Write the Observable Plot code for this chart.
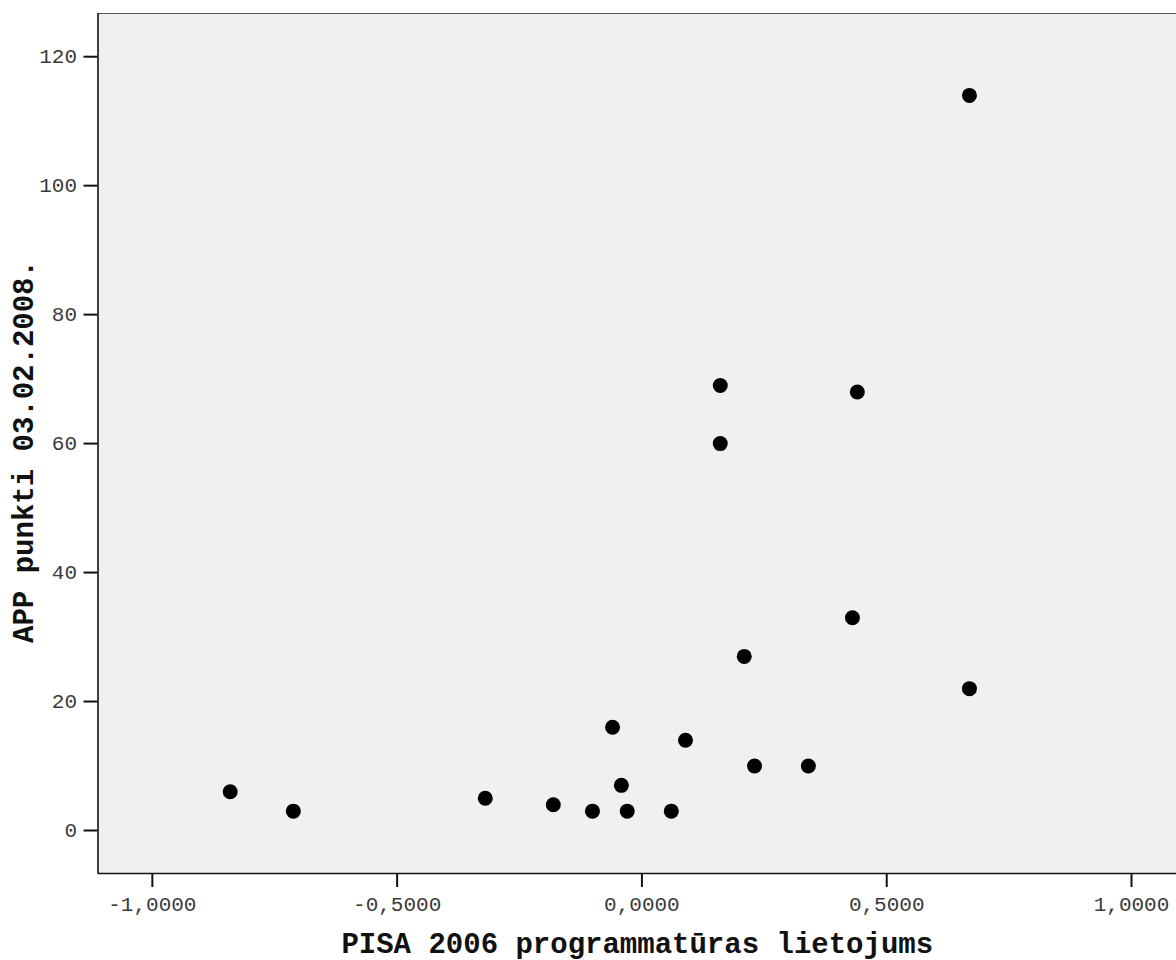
<!DOCTYPE html>
<html>
<head>
<meta charset="utf-8">
<script src="https://cdn.jsdelivr.net/npm/d3@7"></script>
<script src="https://cdn.jsdelivr.net/npm/@observablehq/plot@0.6"></script>
<style>
  html, body { margin: 0; padding: 0; background: #fff; overflow: hidden; }
  svg text { font-family: "Liberation Mono", "DejaVu Sans Mono", monospace; }
  g[aria-label="x-axis tick label"] text, g[aria-label="y-axis tick label"] text { fill: #3a3a3a; }
</style>
</head>
<body>
<div id="chart"></div>
<script>
const software = [-0.841, -0.712, -0.320, -0.181, -0.101, -0.060, -0.042, -0.030, 0.060, 0.089, 0.160, 0.160, 0.209, 0.230, 0.340, 0.430, 0.440, 0.669, 0.669];
const appPoints = [6, 3, 5, 4, 3, 16, 7, 3, 3, 14, 69, 60, 27, 10, 10, 33, 68, 114, 22];
const xTicks = [-1, -0.5, 0, 0.5, 1];
const yTicks = [0, 20, 40, 60, 80, 100, 120];
const xTitle = "PISA 2006 programmatūras lietojums";
const yTitle = "APP punkti 03.02.2008.";

const data = software.map((x, i) => ({x, y: appPoints[i]}));
const fmtX = d => d.toFixed(4).replace(".", ",");

const xDom = [-1.111, 1.0919];
const yDom = [-6.67, 126.7];

const chart = Plot.plot({
  width: 1176,
  height: 960,
  marginLeft: 97.5,
  marginRight: 0,
  marginTop: 13,
  marginBottom: 87,
  x: {domain: xDom},
  y: {domain: yDom},
  style: {fontSize: "21px", fontFamily: "Liberation Mono, monospace", background: "#fff"},
  marks: [
    Plot.frame({fill: "#f0f0f0", stroke: "none"}),
    Plot.ruleY([yDom[1]], {stroke: "#555", strokeWidth: 1}),
    Plot.ruleX([xDom[0]], {stroke: "#111", strokeWidth: 1.6}),
    Plot.ruleY([yDom[0]], {stroke: "#111", strokeWidth: 1.6}),
    Plot.axisY(yTicks, {tickSize: 14, tickPadding: 7, strokeWidth: 2, stroke: "#111", label: null, fontSize: 21}),
    Plot.axisX(xTicks, {tickSize: 14, tickPadding: 9, strokeWidth: 2, stroke: "#111", tickFormat: fmtX, label: null, fontSize: 21}),
    Plot.dot(data, {x: "x", y: "y", r: 7.5, fill: "#000", stroke: "none"}),
    Plot.text([xTitle], {frameAnchor: "bottom", dy: 79, fontSize: 29, fontWeight: "bold", fill: "#111"}),
    Plot.text([yTitle], {frameAnchor: "left", textAnchor: "middle", rotate: -90, dx: -74, dy: 8, fontSize: 29, fontWeight: "bold", fill: "#111"})
  ]
});
document.getElementById("chart").appendChild(chart);
</script>
</body>
</html>
